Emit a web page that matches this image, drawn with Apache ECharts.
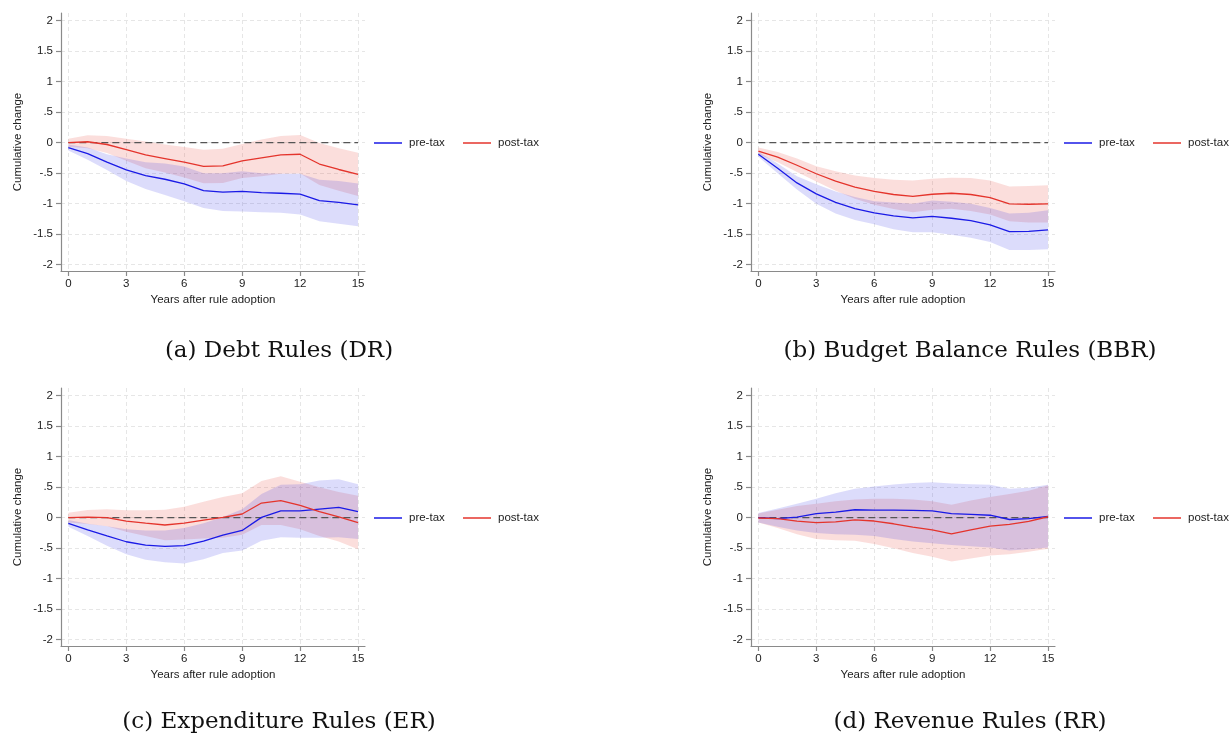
<!DOCTYPE html>
<html><head><meta charset="utf-8">
<script src="https://cdn.jsdelivr.net/npm/echarts@6/dist/echarts.min.js"></script>
<style>html,body{margin:0;padding:0;background:#fff}#c{width:1229px;height:738px}</style>
</head><body><div id="c"></div><script>
// ---------- data ----------
const years = [0,1,2,3,4,5,6,7,8,9,10,11,12,13,14,15];
const xTicks = [0,3,6,9,12,15];
const yTicks = [-2,-1.5,-1,-0.5,0,0.5,1,1.5,2];
const legendNames = ['pre-tax','post-tax'];
const captions = ['(a) Debt Rules (DR)','(b) Budget Balance Rules (BBR)','(c) Expenditure Rules (ER)','(d) Revenue Rules (RR)'];
const yTitle = 'Cumulative change';
const xTitle = 'Years after rule adoption';

// (a) Debt Rules
const drPre   = [-0.08,-0.18,-0.32,-0.445,-0.54,-0.6,-0.675,-0.785,-0.81,-0.8,-0.82,-0.83,-0.845,-0.95,-0.98,-1.02];
const drPreLo = [-0.13,-0.28,-0.45,-0.63,-0.76,-0.86,-0.96,-1.07,-1.12,-1.13,-1.14,-1.15,-1.18,-1.29,-1.33,-1.37];
const drPreHi = [-0.03,-0.08,-0.19,-0.26,-0.32,-0.34,-0.39,-0.5,-0.5,-0.47,-0.5,-0.51,-0.51,-0.61,-0.63,-0.67];
const drPost   = [0,0.015,-0.03,-0.115,-0.2,-0.26,-0.32,-0.39,-0.38,-0.3,-0.25,-0.2,-0.19,-0.35,-0.44,-0.52];
const drPostLo = [-0.065,-0.09,-0.17,-0.295,-0.42,-0.49,-0.57,-0.665,-0.66,-0.58,-0.55,-0.51,-0.505,-0.695,-0.79,-0.875];
const drPostHi = [0.065,0.12,0.11,0.065,0.02,-0.03,-0.07,-0.115,-0.1,-0.02,0.05,0.11,0.125,-0.005,-0.09,-0.165];

// (b) Budget Balance Rules
const bbrPre   = [-0.19,-0.42,-0.66,-0.84,-0.98,-1.08,-1.15,-1.2,-1.235,-1.21,-1.24,-1.28,-1.35,-1.46,-1.455,-1.43];
const bbrPreLo = [-0.23,-0.5,-0.77,-1.0,-1.16,-1.27,-1.34,-1.42,-1.47,-1.47,-1.51,-1.56,-1.63,-1.76,-1.76,-1.75];
const bbrPreHi = [-0.15,-0.34,-0.55,-0.68,-0.8,-0.89,-0.96,-0.98,-1.0,-0.95,-0.97,-1.0,-1.07,-1.16,-1.15,-1.11];
const bbrPost   = [-0.137,-0.236,-0.37,-0.51,-0.63,-0.73,-0.8,-0.85,-0.88,-0.846,-0.83,-0.85,-0.9,-1.005,-1.01,-1.005];
const bbrPostLo = [-0.19,-0.32,-0.48,-0.635,-0.79,-0.92,-1.02,-1.09,-1.14,-1.1,-1.085,-1.12,-1.18,-1.29,-1.31,-1.31];
const bbrPostHi = [-0.08,-0.155,-0.26,-0.385,-0.47,-0.54,-0.58,-0.61,-0.62,-0.59,-0.575,-0.58,-0.62,-0.72,-0.71,-0.7];

// (c) Expenditure Rules
const erPre   = [-0.095,-0.2,-0.3,-0.395,-0.45,-0.47,-0.46,-0.385,-0.285,-0.21,0.005,0.11,0.11,0.14,0.17,0.1];
const erPreLo = [-0.15,-0.3,-0.46,-0.6,-0.69,-0.73,-0.75,-0.68,-0.58,-0.54,-0.38,-0.32,-0.33,-0.33,-0.32,-0.35];
const erPreHi = [-0.04,-0.1,-0.14,-0.19,-0.21,-0.21,-0.17,-0.09,0.01,0.14,0.39,0.54,0.55,0.61,0.63,0.55];
const erPost   = [0,0.01,0,-0.055,-0.09,-0.12,-0.09,-0.04,0.005,0.06,0.24,0.28,0.2,0.1,0.015,-0.08];
const erPostLo = [-0.08,-0.105,-0.14,-0.23,-0.3,-0.37,-0.36,-0.34,-0.33,-0.28,-0.12,-0.12,-0.19,-0.3,-0.39,-0.52];
const erPostHi = [0.08,0.125,0.14,0.12,0.12,0.13,0.18,0.26,0.34,0.4,0.6,0.68,0.59,0.5,0.42,0.36];

// (d) Revenue Rules
const rrPre   = [0,-0.015,0.01,0.065,0.09,0.13,0.125,0.125,0.12,0.11,0.065,0.055,0.04,-0.03,-0.015,0.02];
const rrPreLo = [-0.08,-0.15,-0.21,-0.25,-0.27,-0.28,-0.3,-0.35,-0.39,-0.42,-0.45,-0.47,-0.49,-0.54,-0.52,-0.49];
const rrPreHi = [0.075,0.15,0.23,0.31,0.4,0.475,0.51,0.545,0.57,0.58,0.56,0.55,0.54,0.475,0.49,0.54];
const rrPost   = [-0.005,-0.015,-0.055,-0.08,-0.07,-0.035,-0.055,-0.1,-0.155,-0.2,-0.265,-0.2,-0.14,-0.11,-0.06,0.015];
const rrPostLo = [-0.08,-0.17,-0.27,-0.35,-0.37,-0.38,-0.43,-0.5,-0.58,-0.64,-0.72,-0.67,-0.62,-0.6,-0.56,-0.51];
const rrPostHi = [0.07,0.13,0.19,0.23,0.27,0.3,0.31,0.31,0.3,0.27,0.21,0.28,0.34,0.39,0.44,0.53];

const panels = [
  {pre: drPre, preLo: drPreLo, preHi: drPreHi, post: drPost, postLo: drPostLo, postHi: drPostHi},
  {pre: bbrPre, preLo: bbrPreLo, preHi: bbrPreHi, post: bbrPost, postLo: bbrPostLo, postHi: bbrPostHi},
  {pre: erPre, preLo: erPreLo, preHi: erPreHi, post: erPost, postLo: erPostLo, postHi: erPostHi},
  {pre: rrPre, preLo: rrPreLo, preHi: rrPreHi, post: rrPost, postLo: rrPostLo, postHi: rrPostHi}
];

// ---------- layout & style ----------
const gLeft = [61, 751, 61, 751];
const gTop = [13, 13, 388, 388];
const gW = 304, gH = 258;
const capX = [279, 970, 279, 970];
const capY = [350, 350, 721, 721];
const BLUE = '#1a1ae6', RED = '#e4342c';
const BLUE_BAND = 'rgba(40,40,230,0.16)', RED_BAND = 'rgba(230,50,40,0.16)';
const FONT = '"Liberation Sans", Arial, sans-serif';
const AXC = '#8a8a8a';

const pair = arr => years.map((x, i) => [x, arr[i]]);
const bandData = (lo, hi) => years.map((x, i) => [x, lo[i], hi[i]]);

function bandSeries(k, lo, hi, color, name) {
  return {
    type: 'custom', name: name, xAxisIndex: k, yAxisIndex: k, silent: true,
    data: bandData(lo, hi), encode: {x: 0, y: [1, 2]},
    renderItem: (params, api) => {
      if (params.dataIndex !== 0) return null;
      const pts = [];
      for (let i = 0; i < years.length; i++) pts.push(api.coord([years[i], hi[i]]));
      for (let i = years.length - 1; i >= 0; i--) pts.push(api.coord([years[i], lo[i]]));
      return {type: 'polygon', shape: {points: pts}, style: {fill: color, stroke: null}};
    }
  };
}

const grid = [], xAxis = [], yAxis = [], series = [], legend = [], graphic = [];
panels.forEach((p, k) => {
  grid.push({left: gLeft[k], top: gTop[k], width: gW, height: gH, containLabel: false});
  xAxis.push({
    type: 'value', gridIndex: k, min: -0.38, max: 15.36,
    name: xTitle, nameLocation: 'middle', nameGap: 23,
    nameTextStyle: {fontFamily: FONT, fontSize: 11.5, color: '#222'},
    axisLine: {show: true, onZero: false, lineStyle: {color: AXC, width: 1.2}},
    axisTick: {show: true, length: 5, customValues: xTicks, lineStyle: {color: AXC, width: 1.2}},
    axisLabel: {customValues: xTicks, margin: 7, fontFamily: FONT, fontSize: 11.5, color: '#222'},
    splitLine: {show: true, lineStyle: {color: '#e6e6e6', type: [4, 3], width: 1}}
  });
  yAxis.push({
    type: 'value', gridIndex: k, min: -2.105, max: 2.127,
    name: yTitle, nameLocation: 'middle', nameGap: 37, nameRotate: 90,
    nameTextStyle: {fontFamily: FONT, fontSize: 11.5, color: '#222'},
    axisLine: {show: true, onZero: false, lineStyle: {color: AXC, width: 1.2}},
    axisTick: {show: true, length: 5, customValues: yTicks, lineStyle: {color: AXC, width: 1.2}},
    axisLabel: {customValues: yTicks, margin: 8, fontFamily: FONT, fontSize: 11.5, color: '#222',
      formatter: v => v === 0 ? '0' : String(v).replace('0.', '.')},
    splitLine: {show: true, lineStyle: {color: '#e6e6e6', type: [4, 3], width: 1}}
  });
  const base = {xAxisIndex: k, yAxisIndex: k, type: 'line', showSymbol: false, symbol: 'none', silent: true};
  series.push(bandSeries(k, p.postLo, p.postHi, RED_BAND, 'postBand' + k));
  series.push(bandSeries(k, p.preLo, p.preHi, BLUE_BAND, 'preBand' + k));
  series.push(Object.assign({}, base, {name: 'zero' + k, data: years.map(x => [x, 0]),
    lineStyle: {color: '#555555', width: 1.3, type: [7, 4]}}));
  series.push(Object.assign({}, base, {name: legendNames[0], data: pair(p.pre), color: BLUE,
    lineStyle: {color: BLUE, width: 1.3}}));
  series.push(Object.assign({}, base, {name: legendNames[1], data: pair(p.post), color: RED,
    lineStyle: {color: RED, width: 1.3}}));

  const legBase = {top: gTop[k] + 124, padding: 0, icon: 'rect', itemWidth: 28, itemHeight: 1.5,
    textStyle: {fontFamily: FONT, fontSize: 11.5, color: '#222', padding: [0, 0, 0, 2]},
    selectedMode: false};
  legend.push(Object.assign({}, legBase, {data: [legendNames[0]], left: gLeft[k] + 313}));
  legend.push(Object.assign({}, legBase, {data: [legendNames[1]], left: gLeft[k] + 402}));
  graphic.push({type: 'text', x: capX[k], y: capY[k] + 1,
    style: {text: captions[k], fontFamily: '"DejaVu Serif", serif', fontSize: 23, fill: '#111',
      textAlign: 'center', textVerticalAlign: 'middle'}});
});

const chart = echarts.init(document.getElementById('c'), null, {renderer: 'canvas'});
chart.setOption({animation: false, backgroundColor: '#fff', grid, xAxis, yAxis, series, legend, graphic});
</script></body></html>
